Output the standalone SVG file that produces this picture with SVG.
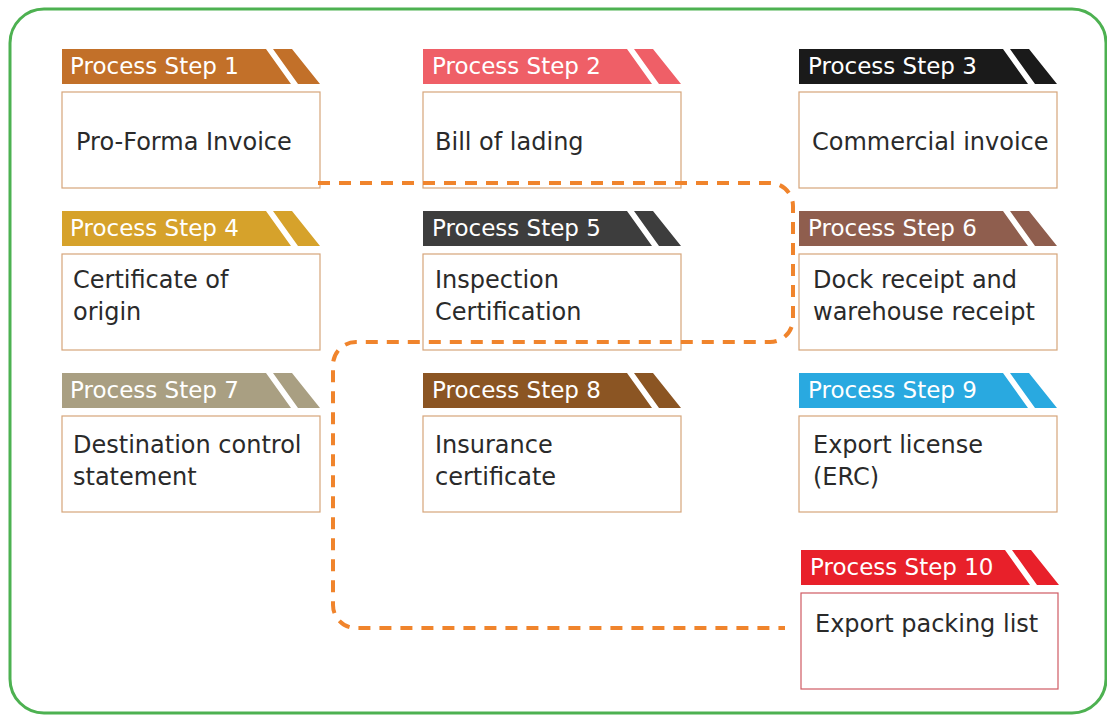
<svg xmlns="http://www.w3.org/2000/svg" xmlns:xlink="http://www.w3.org/1999/xlink" width="1107" height="715" viewBox="0 0 1107 715">
<style>
.frame{fill:#fff;stroke:#4db151;stroke-width:3}
.box{fill:#fff;stroke:#d6a57a;stroke-width:1.2}
.box10{fill:#fff;stroke:#cf5a63;stroke-width:1.2}
.ht{font-family:"DejaVu Sans",sans-serif;font-size:23px;fill:#fff}
.bt{font-family:"DejaVu Sans",sans-serif;font-size:24px;fill:#2a2a2a}
.conn{fill:none;stroke:#f0842c;stroke-width:4;stroke-dasharray:12 9}
</style>
<defs>
<path id="hdr" d="M0 0H204L229 35H0Z M211 0H230L258 35H236Z"/>
</defs>
<rect class="frame" x="10" y="9" width="1096" height="704" rx="34"/>
<g id="step1">
<use xlink:href="#hdr" x="62" y="49" fill="#c27029"/>
<text class="ht" x="70" y="74">Process Step 1</text>
<rect class="box" x="62" y="92" width="258" height="96"/>
<text class="bt" x="76" y="150">Pro-Forma Invoice</text>
</g>
<g id="step2">
<use xlink:href="#hdr" x="423" y="49" fill="#ef5f67"/>
<text class="ht" x="432" y="74">Process Step 2</text>
<rect class="box" x="423" y="92" width="258" height="96"/>
<text class="bt" x="435" y="150">Bill of lading</text>
</g>
<g id="step3">
<use xlink:href="#hdr" x="799" y="49" fill="#1a1a1a"/>
<text class="ht" x="808" y="74">Process Step 3</text>
<rect class="box" x="799" y="92" width="258" height="96"/>
<text class="bt" x="812" y="150">Commercial invoice</text>
</g>
<g id="step4">
<use xlink:href="#hdr" x="62" y="211" fill="#d6a22b"/>
<text class="ht" x="70" y="236">Process Step 4</text>
<rect class="box" x="62" y="254" width="258" height="96"/>
<text class="bt" x="73" y="288">Certificate of</text>
<text class="bt" x="73" y="320">origin</text>
</g>
<g id="step5">
<use xlink:href="#hdr" x="423" y="211" fill="#3d3d3d"/>
<text class="ht" x="432" y="236">Process Step 5</text>
<rect class="box" x="423" y="254" width="258" height="96"/>
<text class="bt" x="435" y="288">Inspection</text>
<text class="bt" x="435" y="320">Certification</text>
</g>
<g id="step6">
<use xlink:href="#hdr" x="799" y="211" fill="#8f5e4e"/>
<text class="ht" x="808" y="236">Process Step 6</text>
<rect class="box" x="799" y="254" width="258" height="96"/>
<text class="bt" x="813" y="288">Dock receipt and</text>
<text class="bt" x="813" y="320">warehouse receipt</text>
</g>
<g id="step7">
<use xlink:href="#hdr" x="62" y="373" fill="#a99f82"/>
<text class="ht" x="70" y="398">Process Step 7</text>
<rect class="box" x="62" y="416" width="258" height="96"/>
<text class="bt" x="73" y="453">Destination control</text>
<text class="bt" x="73" y="485">statement</text>
</g>
<g id="step8">
<use xlink:href="#hdr" x="423" y="373" fill="#8b5523"/>
<text class="ht" x="432" y="398">Process Step 8</text>
<rect class="box" x="423" y="416" width="258" height="96"/>
<text class="bt" x="435" y="453">Insurance</text>
<text class="bt" x="435" y="485">certificate</text>
</g>
<g id="step9">
<use xlink:href="#hdr" x="799" y="373" fill="#29a9e0"/>
<text class="ht" x="808" y="398">Process Step 9</text>
<rect class="box" x="799" y="416" width="258" height="96"/>
<text class="bt" x="813" y="453">Export license</text>
<text class="bt" x="813" y="485">(ERC)</text>
</g>
<g id="step10">
<use xlink:href="#hdr" x="801" y="550" fill="#e8202a"/>
<text class="ht" x="810" y="575">Process Step 10</text>
<rect class="box10" x="801" y="593" width="257" height="96"/>
<text class="bt" x="815" y="632">Export packing list</text>
</g>
<g id="connectors">
<path class="conn" d="M318 183H770A23 23 0 0 1 793 206V319A23 23 0 0 1 770 342H356A23 23 0 0 0 333 365V605A23 23 0 0 0 356 628H785"/>
</g>
</svg>
